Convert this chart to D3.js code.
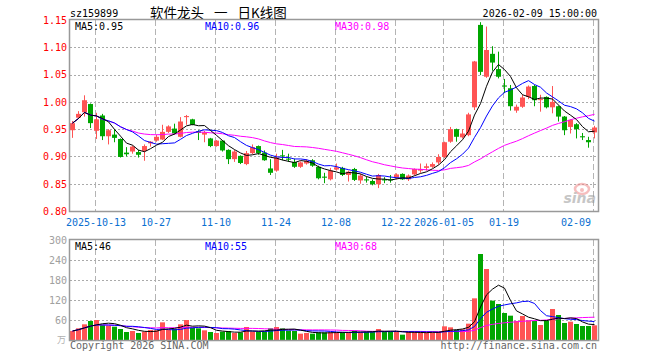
<!DOCTYPE html>
<html>
<head>
<meta charset="utf-8">
<script src="https://cdn.jsdelivr.net/npm/d3@7"></script>
<style>
body { margin: 0; background: #fff; }
svg { display: block; }
</style>
</head>
<body>
<svg id="chart"></svg>
<script>
var width = 660;
var height = 360;

var code = "sz159899";
var title = "软件龙头 一 日K线图";
var stamp = "2026-02-09 15:00:00";

// trading days shown
var dates = [
  "2025-09-29","2025-09-30","2025-10-09","2025-10-10",
  "2025-10-13","2025-10-14","2025-10-15","2025-10-16","2025-10-17",
  "2025-10-20","2025-10-21","2025-10-22","2025-10-23","2025-10-24",
  "2025-10-27","2025-10-28","2025-10-29","2025-10-30","2025-10-31",
  "2025-11-03","2025-11-04","2025-11-05","2025-11-06","2025-11-07",
  "2025-11-10","2025-11-11","2025-11-12","2025-11-13","2025-11-14",
  "2025-11-17","2025-11-18","2025-11-19","2025-11-20","2025-11-21",
  "2025-11-24","2025-11-25","2025-11-26","2025-11-27","2025-11-28",
  "2025-12-01","2025-12-02","2025-12-03","2025-12-04","2025-12-05",
  "2025-12-08","2025-12-09","2025-12-10","2025-12-11","2025-12-12",
  "2025-12-15","2025-12-16","2025-12-17","2025-12-18","2025-12-19",
  "2025-12-22","2025-12-23","2025-12-24","2025-12-25","2025-12-26",
  "2025-12-29","2025-12-30","2025-12-31",
  "2026-01-05","2026-01-06","2026-01-07","2026-01-08","2026-01-09",
  "2026-01-12","2026-01-13","2026-01-14","2026-01-15","2026-01-16",
  "2026-01-19","2026-01-20","2026-01-21","2026-01-22","2026-01-23",
  "2026-01-26","2026-01-27","2026-01-28","2026-01-29","2026-01-30",
  "2026-02-02","2026-02-03","2026-02-04","2026-02-05","2026-02-06",
  "2026-02-09"
];

var open = [
  0.948,0.971,0.981,0.996,
  0.947,0.975,0.937,0.940,0.932,
  0.907,0.909,0.908,0.910,0.924,
  0.929,0.931,0.945,0.951,0.936,
  0.972,0.968,0.946,0.940,0.933,
  0.919,0.929,0.912,0.895,0.901,
  0.886,0.906,0.919,0.907,0.878,
  0.874,0.902,0.896,0.890,0.881,
  0.887,0.893,0.881,0.863,0.858,
  0.876,0.879,0.866,0.877,0.856,
  0.858,0.855,0.849,0.858,0.858,
  0.861,0.868,0.858,0.867,0.874,
  0.879,0.881,0.889,
  0.899,0.927,0.950,0.935,0.939,
  0.990,1.141,1.046,1.088,1.060,
  1.030,1.025,0.984,0.991,1.009,
  1.029,1.004,1.009,0.990,0.992,
  0.973,0.954,0.959,0.937,0.930,
  0.944
];
var high = [
  0.965,0.983,1.012,0.997,
  0.980,0.978,0.950,0.950,0.933,
  0.917,0.920,0.912,0.922,0.928,
  0.940,0.958,0.957,0.960,0.972,
  0.976,0.969,0.948,0.947,0.934,
  0.930,0.930,0.913,0.912,0.902,
  0.910,0.922,0.920,0.911,0.895,
  0.905,0.912,0.905,0.896,0.891,
  0.895,0.895,0.883,0.870,0.879,
  0.887,0.881,0.874,0.879,0.868,
  0.863,0.858,0.868,0.862,0.866,
  0.869,0.869,0.867,0.878,0.887,
  0.887,0.889,0.904,
  0.927,0.954,0.951,0.950,0.980,
  1.075,1.146,1.138,1.102,1.092,
  1.042,1.031,0.995,1.013,1.030,
  1.031,1.013,1.010,1.029,0.993,
  0.974,0.968,0.961,0.943,0.936,
  0.956
];
var low = [
  0.934,0.969,0.973,0.952,
  0.932,0.930,0.922,0.926,0.898,
  0.900,0.905,0.898,0.892,0.918,
  0.927,0.930,0.943,0.940,0.935,
  0.958,0.957,0.930,0.926,0.917,
  0.918,0.909,0.886,0.890,0.886,
  0.884,0.904,0.903,0.892,0.866,
  0.872,0.893,0.890,0.879,0.879,
  0.885,0.881,0.858,0.851,0.856,
  0.874,0.864,0.854,0.855,0.850,
  0.852,0.847,0.842,0.851,0.852,
  0.858,0.857,0.855,0.865,0.870,
  0.874,0.879,0.885,
  0.897,0.925,0.927,0.933,0.937,
  0.985,1.049,1.044,1.057,1.043,
  1.016,0.984,0.980,0.989,1.005,
  0.992,0.982,0.988,0.979,0.964,
  0.939,0.942,0.933,0.930,0.916,
  0.933
];
var close = [
  0.961,0.978,1.003,0.961,
  0.968,0.937,0.948,0.934,0.899,
  0.904,0.918,0.903,0.919,0.927,
  0.936,0.945,0.955,0.942,0.964,
  0.974,0.958,0.943,0.944,0.919,
  0.929,0.911,0.895,0.909,0.888,
  0.906,0.917,0.906,0.893,0.870,
  0.898,0.900,0.894,0.881,0.889,
  0.892,0.883,0.860,0.861,0.874,
  0.880,0.866,0.872,0.857,0.865,
  0.856,0.849,0.866,0.856,0.856,
  0.867,0.858,0.865,0.877,0.877,
  0.882,0.886,0.899,
  0.926,0.950,0.936,0.942,0.977,
  1.074,1.055,1.095,1.072,1.046,
  1.028,0.992,0.991,1.008,1.028,
  1.003,1.005,0.990,1.000,0.973,
  0.948,0.967,0.950,0.935,0.926,
  0.953
];
// volume, unit: 10k
var volume = [
  27,35,47,57,
  60,45,43,40,33,
  24,27,21,25,30,
  29,53,30,33,47,
  60,37,35,29,24,
  21,25,27,21,23,
  39,25,25,25,35,
  39,35,28,27,19,
  21,19,23,23,23,
  23,23,23,28,23,
  25,25,33,25,25,
  25,16,25,25,22,
  22,22,24,
  41,38,30,32,49,
  125,258,213,118,108,
  81,73,57,72,59,
  57,45,58,93,75,
  51,55,48,42,42,
  44
];

var tickDates = ["2025-10-13","2025-10-27","2025-11-10","2025-11-24","2025-12-08",
                 "2025-12-22","2026-01-05","2026-01-19","2026-02-09"];
var priceTicks = [0.80,0.85,0.90,0.95,1.00,1.05,1.10,1.15];
var volTicks = [60,120,180,240,300];

var upColor = "#ff5454";
var downColor = "#00a600";
var maColors = {5: "#000000", 10: "#0000ff", 30: "#ff00ff"};
var mono = "'DejaVu Sans Mono', monospace";

function movingAvg(arr, n) {
    return arr.map(function(d, i) {
        var s = Math.max(0, i - n + 1);
        return d3.mean(arr.slice(s, i + 1));
    });
}

var svg = d3.select("#chart").attr("width", width).attr("height", height);

var left = 70, right = 598;
var pTop = 20, pBottom = 211;
var vTop = 240, vBottom = 340;

var x = d3.scaleBand().domain(dates).range([left, right]).padding(0);
var y = d3.scaleLinear().domain([0.80, 1.15]).range([pBottom, pTop]);
var yv = d3.scaleLinear().domain([0, 300]).range([vBottom, vTop]);

function crisp(v) { return Math.round(v) + 0.5; }

// ---- header
svg.append("text").attr("x", 70).attr("y", 16.5)
    .attr("font-family", mono).attr("font-size", 10).attr("fill", "#000").text(code);
svg.append("text").attr("x", 150).attr("y", 17.5)
    .attr("font-family", "'Noto Sans CJK SC', sans-serif").attr("font-size", 13.5)
    .attr("word-spacing", 7).attr("fill", "#000").text(title);
svg.append("text").attr("x", 597).attr("y", 16.5).attr("text-anchor", "end")
    .attr("font-family", mono).attr("font-size", 10).attr("fill", "#000").text(stamp);

// ---- grids
var grid = svg.append("g");
[[pTop, pBottom], [vTop, vBottom]].forEach(function(r) {
    grid.selectAll(null).data(tickDates).enter().append("line")
        .attr("x1", function(d) { return x(d) + 1.5; })
        .attr("x2", function(d) { return x(d) + 1.5; })
        .attr("y1", r[0]).attr("y2", r[1])
        .attr("stroke", "#b4b4b4").attr("stroke-dasharray", "6,3");
});
grid.selectAll(null).data(priceTicks.slice(1, -1)).enter().append("line")
    .attr("x1", left).attr("x2", right)
    .attr("y1", function(d) { return crisp(y(d)); })
    .attr("y2", function(d) { return crisp(y(d)); })
    .attr("stroke", "#aaa").attr("stroke-dasharray", "2,2");
grid.selectAll(null).data(volTicks.slice(0, -1)).enter().append("line")
    .attr("x1", left).attr("x2", right)
    .attr("y1", function(d) { return crisp(yv(d)); })
    .attr("y2", function(d) { return crisp(yv(d)); })
    .attr("stroke", "#aaa").attr("stroke-dasharray", "2,2");

// sina watermark
var logo = svg.append("g").attr("opacity", 0.55);
logo.append("ellipse").attr("cx", 582).attr("cy", 189).attr("rx", 7).attr("ry", 5)
    .attr("fill", "none").attr("stroke", "#f08a8a").attr("stroke-width", 2.5);
logo.append("circle").attr("cx", 582).attr("cy", 190).attr("r", 2).attr("fill", "#f08a8a");
logo.append("text").attr("x", 596).attr("y", 203).attr("text-anchor", "end")
    .attr("font-family", "'DejaVu Sans', sans-serif").attr("font-style", "italic")
    .attr("font-weight", "bold").attr("font-size", 14).attr("fill", "#999").text("sina");

// ---- axes labels
svg.append("g").selectAll("text").data(priceTicks).enter().append("text")
    .attr("x", 67).attr("y", function(d) { return y(d) + 3.8; })
    .attr("text-anchor", "end").attr("font-family", mono).attr("font-size", 10)
    .attr("fill", "#ff0000").text(function(d) { return d.toFixed(2); });

svg.append("g").selectAll("text").data(volTicks).enter().append("text")
    .attr("x", 67).attr("y", function(d) { return yv(d) + 3.8; })
    .attr("text-anchor", "end").attr("font-family", mono).attr("font-size", 10)
    .attr("fill", "#a0a0a0").text(function(d) { return d; });
svg.append("text").attr("x", 66).attr("y", 343).attr("text-anchor", "end")
    .attr("font-family", "'Noto Sans CJK SC', sans-serif").attr("font-size", 9)
    .attr("fill", "#b0b0b0").text("万");

var prevYear = null;
svg.append("g").selectAll("text").data(tickDates).enter().append("text")
    .attr("font-family", mono).attr("font-size", 10).attr("fill", "#0a6fd1")
    .attr("y", 225.5)
    .text(function(d) {
        var yr = d.slice(0, 4);
        var t = (yr !== prevYear) ? d : d.slice(5);
        prevYear = yr;
        return t;
    })
    .each(function(d) {
        var cx = x(d) + 2;
        var w = this.getComputedTextLength();
        if (cx + w / 2 > right - 6) {
            d3.select(this).attr("x", right - 7).attr("text-anchor", "end");
        } else {
            d3.select(this).attr("x", cx).attr("text-anchor", "middle");
        }
    });

// ---- candles
var idx = d3.range(dates.length);
var candles = svg.append("g");
candles.selectAll("line").data(idx).enter().append("line")
    .attr("x1", function(i) { return x(dates[i]) + 2.5; })
    .attr("x2", function(i) { return x(dates[i]) + 2.5; })
    .attr("y1", function(i) { return y(high[i]); })
    .attr("y2", function(i) { return y(low[i]); })
    .attr("stroke", function(i) { return close[i] >= open[i] ? upColor : downColor; });
candles.selectAll("rect").data(idx).enter().append("rect")
    .attr("x", function(i) { return x(dates[i]); })
    .attr("width", 5)
    .attr("y", function(i) { return y(Math.max(open[i], close[i])); })
    .attr("height", function(i) { return Math.max(1, Math.abs(y(open[i]) - y(close[i]))); })
    .attr("fill", function(i) { return close[i] >= open[i] ? upColor : downColor; });

// ---- volume bars
svg.append("g").selectAll("rect").data(idx).enter().append("rect")
    .attr("x", function(i) { return x(dates[i]); })
    .attr("width", 5)
    .attr("y", function(i) { return yv(volume[i]); })
    .attr("height", function(i) { return vBottom - yv(volume[i]); })
    .attr("fill", function(i) { return close[i] >= open[i] ? upColor : downColor; });

// ---- moving averages
var priceLine = d3.line().x(function(d, i) { return x(dates[i]) + 2.5; }).y(function(d) { return y(d); });
var volLine = d3.line().x(function(d, i) { return x(dates[i]) + 2.5; }).y(function(d) { return yv(d); });
var maPrice = {}, maVol = {};
[30, 10, 5].forEach(function(n) {
    maPrice[n] = movingAvg(close, n);
    maVol[n] = movingAvg(volume, n);
    svg.append("path").attr("d", priceLine(maPrice[n]))
        .attr("fill", "none").attr("stroke", maColors[n]).attr("stroke-width", 1);
    svg.append("path").attr("d", volLine(maVol[n]))
        .attr("fill", "none").attr("stroke", maColors[n]).attr("stroke-width", 1);
});

// ---- frames
svg.append("rect").attr("x", left - 0.5).attr("y", pTop - 0.5)
    .attr("width", right - left + 1).attr("height", pBottom - pTop + 1)
    .attr("fill", "none").attr("stroke", "#999").attr("stroke-width", 1.5);
svg.append("rect").attr("x", left - 0.5).attr("y", vTop - 0.5)
    .attr("width", right - left + 1).attr("height", vBottom - vTop + 1)
    .attr("fill", "none").attr("stroke", "#999").attr("stroke-width", 1.5);

// ---- legends
var last = dates.length - 1;
[[5, 75], [10, 205], [30, 335]].forEach(function(p) {
    svg.append("text").attr("x", p[1]).attr("y", 30)
        .attr("font-family", mono).attr("font-size", 10).attr("fill", maColors[p[0]])
        .text("MA" + p[0] + ":" + maPrice[p[0]][last].toFixed(2));
    svg.append("text").attr("x", p[1]).attr("y", 250)
        .attr("font-family", mono).attr("font-size", 10).attr("fill", maColors[p[0]])
        .text("MA" + p[0] + ":" + Math.round(maVol[p[0]][last]));
});

// ---- footer
svg.append("text").attr("x", 70).attr("y", 348.5)
    .attr("font-family", mono).attr("font-size", 10).attr("fill", "#666")
    .text("Copyright 2026 SINA.COM");
svg.append("text").attr("x", 597).attr("y", 348.5).attr("text-anchor", "end")
    .attr("font-family", mono).attr("font-size", 10).attr("fill", "#666")
    .text("http://finance.sina.com.cn");
</script>
</body>
</html>
